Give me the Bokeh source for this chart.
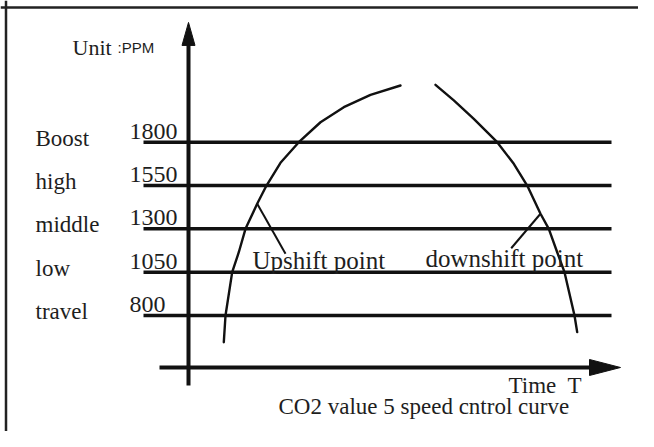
from bokeh.plotting import figure
from bokeh.models import Range1d, Span
from bokeh.core.properties import value
from bokeh.embed import file_html
from bokeh.resources import INLINE

# ---- data ----
levels = [800, 1050, 1300, 1550, 1800]
level_names = ["travel", "low", "middle", "high", "Boost"]
level_labels = ["800", "1050", "1300", "1550", "1800"]

# rising branch of the CO2 curve (time T, ppm)
up_t = [35.3, 37, 43.7, 50.3, 57, 68.7, 78, 92, 110.3, 132, 155.3, 182, 212]
up_ppm = [646, 800, 1050, 1165, 1300, 1445, 1550, 1681, 1800, 1915, 2002, 2073, 2127]
# falling branch of the CO2 curve
down_t = [247, 265.3, 285.3, 308.7, 325.3, 338.7, 352, 360.3, 368.7, 376, 386, 388.7]
down_ppm = [2131, 2041, 1935, 1800, 1675, 1550, 1387, 1300, 1165, 1050, 800, 704]

# pointer lines for the annotations
upshift_t = [68.7, 97]
upshift_ppm = [1445, 1156]
downshift_t = [352, 322.7]
downshift_ppm = [1387, 1188]

# axes extents
time_axis_t = [-29, 432]
time_axis_ppm = 500
ppm_axis_range = [396, 2491]
level_line_t = [-45, 423]

# ---- figure ----
W, H = 638, 431
X0, X1 = -188, 450
Y0, Y1 = 130.7, 2617.5
p = figure(width=W, height=H, output_backend="svg", toolbar_location=None,
           x_range=Range1d(X0, X1), y_range=Range1d(Y0, Y1),
           min_border=0, min_border_left=0, min_border_right=0,
           min_border_top=0, min_border_bottom=0)
p.xaxis.visible = False
p.yaxis.visible = False
p.grid.visible = False
p.outline_line_color = None
p.background_fill_color = "white"
p.border_fill_color = "white"

dxpx = (X1 - X0) / W
dypx = (Y1 - Y0) / H

INK = "#111111"
TXT = "#1e1e1e"
SHIFT = -7  # text baseline correction in pixels

# frame border (left & top)
p.add_layout(Span(location=X0 + 5.5 * dxpx, dimension="height", line_color="#222222", line_width=2.5))
p.add_layout(Span(location=Y1 - 7 * dypx, dimension="width", line_color="#222222", line_width=2.5))

# level lines
p.segment(x0=[level_line_t[0]] * len(levels), x1=[level_line_t[1]] * len(levels),
          y0=levels, y1=levels, line_color=INK, line_width=3.5)

# axes
p.segment(x0=[0], x1=[0], y0=[ppm_axis_range[0]], y1=[ppm_axis_range[1] - 10 * dypx],
          line_color=INK, line_width=4)
p.segment(x0=[time_axis_t[0]], x1=[time_axis_t[1] - 10 * dxpx], y0=[time_axis_ppm], y1=[time_axis_ppm],
          line_color=INK, line_width=4)

# arrow heads
hl, hw = 23, 6.5
tip = ppm_axis_range[1]
p.patch(x=[0, -hw * dxpx, hw * dxpx], y=[tip, tip - hl * dypx, tip - hl * dypx], color=INK)
hl2, hw2 = 31, 8
tipx = time_axis_t[1]
p.patch(x=[tipx, tipx - hl2 * dxpx, tipx - hl2 * dxpx],
        y=[time_axis_ppm, time_axis_ppm + hw2 * dypx, time_axis_ppm - hw2 * dypx], color=INK)

# curves
p.line(up_t, up_ppm, line_color=INK, line_width=2.4, line_join="round", line_cap="round")
p.line(down_t, down_ppm, line_color=INK, line_width=2.4, line_join="round", line_cap="round")
p.line(upshift_t, upshift_ppm, line_color=INK, line_width=2)
p.line(downshift_t, downshift_ppm, line_color=INK, line_width=2)

serif = value("Liberation Serif")

# level names & values
p.text(x=[-153] * len(levels), y=levels, text=level_names, text_font=serif,
       text_font_size="23px", text_color=TXT, text_baseline="alphabetic", y_offset=3 + SHIFT)
p.text(x=[-59] * len(levels), y=levels, text=level_labels, text_font=serif,
       text_font_size="24px", text_color=TXT, text_baseline="alphabetic", y_offset=-4 + SHIFT)

# unit label
p.text(x=[-116], y=[2306], text=["Unit"], text_font=serif, text_font_size="22px",
       text_color=TXT, text_baseline="alphabetic", y_offset=SHIFT)
p.text(x=[-71], y=[2306], text=[":PPM"], text_font=value("Liberation Sans"), text_font_size="15px",
       text_color=TXT, text_baseline="alphabetic", y_offset=SHIFT)

# annotations
p.text(x=[64, 237], y=[1077, 1088], text=["Upshift point", "downshift point"], text_font=serif,
       text_font_size="25px", text_color=TXT, text_baseline="alphabetic", y_offset=SHIFT)
p.text(x=[320, 379], y=[356, 356], text=["Time", "T"], text_font=serif, text_font_size="23px",
       text_color=TXT, text_baseline="alphabetic", y_offset=SHIFT)
p.text(x=[90], y=[235], text=["CO2 value 5 speed cntrol curve"], text_font=serif,
       text_font_size="23px", text_color=TXT, text_baseline="alphabetic", y_offset=SHIFT)

open("out.html", "w").write(file_html(p, INLINE))
